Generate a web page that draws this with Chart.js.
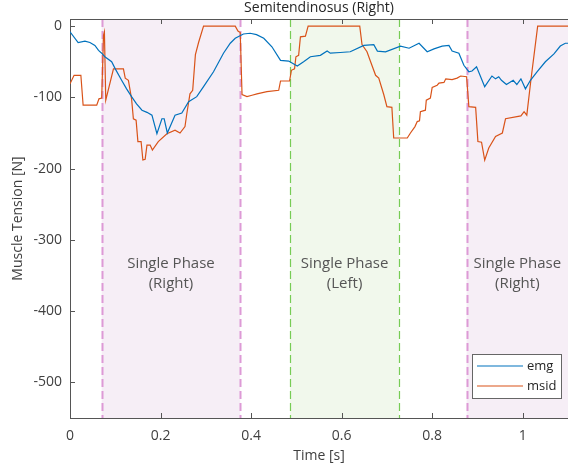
<!DOCTYPE html>
<html>
<head>
<meta charset="utf-8">
<title>Semitendinosus (Right)</title>
<script src="https://cdn.jsdelivr.net/npm/chart.js@4.4.0/dist/chart.umd.min.js"></script>
<style>
    body { margin: 0; background: #fff; }
</style>
</head>
<body>
<canvas id="tensionChart" width="568" height="470"></canvas>
<script>
// emg series (time in s, tension in N)
const emgTime = [0, 0.018, 0.033, 0.044, 0.055, 0.063, 0.07, 0.077, 0.092, 0.1, 0.114, 0.125, 0.136, 0.147,
    0.159, 0.17, 0.181, 0.192, 0.203, 0.208, 0.215, 0.232, 0.247, 0.262, 0.28, 0.295, 0.317, 0.339, 0.354,
    0.365, 0.383, 0.398, 0.412, 0.428, 0.446, 0.465, 0.483, 0.502, 0.516, 0.531, 0.553, 0.568, 0.575, 0.597,
    0.619, 0.649, 0.671, 0.679, 0.697, 0.73, 0.749, 0.771, 0.789, 0.804, 0.822, 0.837, 0.844, 0.859, 0.87,
    0.881, 0.888, 0.898, 0.916, 0.932, 0.94, 0.947, 0.953, 0.964, 0.979, 0.987, 0.996, 1.006, 1.017, 1.032,
    1.05, 1.069, 1.083, 1.094, 1.1];
const emgValues = [-8, -23, -21, -23, -27, -34, -38, -43, -50, -60, -76, -88, -99, -109,
    -118, -121, -125, -151, -130, -130, -150, -125, -122, -106, -99, -85, -64, -38, -24,
    -17, -11, -10, -12, -17, -29, -48, -49, -56, -50, -43, -41, -35, -38, -37,
    -36, -27, -26, -35, -36, -28, -31, -24, -36, -32, -28, -27, -35, -38, -55,
    -64, -63, -57, -85, -70, -74, -71, -76, -82, -76, -82, -74, -88, -76, -64,
    -50, -39, -28, -24, -24];

// msid series
const msidTime = [0, 0.009, 0.024, 0.029, 0.059, 0.064, 0.07, 0.074, 0.076, 0.079, 0.096, 0.118, 0.122, 0.129,
    0.136, 0.14, 0.146, 0.15, 0.157, 0.161, 0.166, 0.17, 0.177, 0.182, 0.195, 0.214, 0.232, 0.243, 0.254,
    0.258, 0.265, 0.271, 0.277, 0.284, 0.295, 0.365, 0.371, 0.376, 0.38, 0.391, 0.402, 0.413, 0.435, 0.461,
    0.465, 0.485, 0.489, 0.496, 0.499, 0.505, 0.509, 0.52, 0.526, 0.64, 0.645, 0.656, 0.664, 0.675, 0.682,
    0.693, 0.7, 0.711, 0.715, 0.745, 0.752, 0.762, 0.767, 0.772, 0.774, 0.785, 0.787, 0.796, 0.8, 0.811,
    0.815, 0.826, 0.83, 0.844, 0.855, 0.863, 0.876, 0.881, 0.896, 0.901, 0.909, 0.916, 0.925, 0.94, 0.955,
    0.962, 0.996, 1.003, 1.009, 1.018, 1.033, 1.1];
const msidValues = [-81, -69, -69, -111, -111, -102, -101, -13, -8, -104, -60, -60, -73, -76,
    -102, -130, -132, -162, -162, -188, -187, -167, -167, -174, -162, -151, -146, -150, -141,
    -123, -95, -90, -40, -23, 0, 0, -7, -9, -96, -99, -97, -95, -92, -90,
    -77, -77, -62, -60, -43, -41, -15, -14, 0, 0, -26, -36, -50, -69, -73,
    -96, -113, -114, -157, -157, -150, -141, -134, -133, -120, -118, -104, -101, -86, -83,
    -80, -79, -74, -75, -73, -70, -71, -113, -114, -162, -163, -188, -171, -155, -150,
    -130, -126, -120, -125, -76, 0, 0];

// single support phases
const phaseStart = [0.07, 0.486, 0.876];
const phaseEnd = [0.376, 0.727, 1.1];
const phaseSide = ["(Right)", "(Left)", "(Right)"];

const xTicks = [0, 0.2, 0.4, 0.6, 0.8, 1];
const yTicks = [-500, -400, -300, -200, -100, 0];

const FONT = "'Open Sans', 'DejaVu Sans', sans-serif";
const TEXT_COLOR = "#404040";
const AXIS_COLOR = "#555";
const phaseColors = {
    "(Right)": { fill: "#f6eef6", line: "#dd9ad6" },
    "(Left)": { fill: "#f1f8ec", line: "#77cc55" },
};

function toPoints(times, values) {
    return times.map((t, i) => ({ x: t, y: values[i] }));
}

// draws shaded phases, dashed borders, phase labels, ticks, legend and title
const phasePlugin = {
    id: "phases",
    beforeDatasetsDraw(chart) {
        const { ctx, chartArea, scales } = chart;
        const x = scales.x, y = scales.y;
        ctx.save();
        ctx.beginPath();
        ctx.rect(chartArea.left, chartArea.top, chartArea.width, chartArea.height);
        ctx.clip();
        phaseStart.forEach(function (start, i) {
            const left = x.getPixelForValue(start);
            const right = x.getPixelForValue(phaseEnd[i]);
            const colors = phaseColors[phaseSide[i]];
            ctx.fillStyle = colors.fill;
            ctx.fillRect(left, chartArea.top, right - left, chartArea.height);

            ctx.strokeStyle = colors.line;
            ctx.lineWidth = phaseSide[i] === "(Left)" ? 1.2 : 2;
            ctx.setLineDash([8, 4]);
            [start, phaseEnd[i]].forEach(function (t) {
                if (t >= x.max) return;
                const px = Math.round(x.getPixelForValue(t)) + 0.5;
                ctx.beginPath();
                ctx.moveTo(px, chartArea.top);
                ctx.lineTo(px, chartArea.bottom);
                ctx.stroke();
            });
            ctx.setLineDash([]);

            const cx = (left + right) / 2;
            ctx.fillStyle = "#555";
            ctx.font = "15px " + FONT;
            ctx.textAlign = "center";
            ctx.textBaseline = "middle";
            ctx.fillText("Single Phase", cx, y.getPixelForValue(-333));
            ctx.fillText(phaseSide[i], cx, y.getPixelForValue(-362));
        });
        ctx.restore();
    },
    afterDraw(chart) {
        const { ctx, chartArea, scales } = chart;
        const x = scales.x, y = scales.y;
        ctx.save();
        ctx.strokeStyle = AXIS_COLOR;
        ctx.lineWidth = 1;

        // box top line
        ctx.beginPath();
        ctx.moveTo(chartArea.left, chartArea.top + 0.5);
        ctx.lineTo(chartArea.right, chartArea.top + 0.5);
        ctx.stroke();

        // inward tick marks
        xTicks.forEach(function (t) {
            const px = Math.round(x.getPixelForValue(t)) + 0.5;
            ctx.beginPath();
            ctx.moveTo(px, chartArea.bottom);
            ctx.lineTo(px, chartArea.bottom - 5);
            ctx.moveTo(px, chartArea.top);
            ctx.lineTo(px, chartArea.top + 5);
            ctx.stroke();
        });
        yTicks.forEach(function (v) {
            const py = Math.round(y.getPixelForValue(v)) + 0.5;
            ctx.beginPath();
            ctx.moveTo(chartArea.left, py);
            ctx.lineTo(chartArea.left + 5, py);
            ctx.stroke();
        });

        // legend box
        const boxLeft = 472, boxTop = 354, boxW = 89, boxH = 44;
        ctx.fillStyle = "#fff";
        ctx.fillRect(boxLeft, boxTop, boxW, boxH);
        ctx.strokeStyle = "#666";
        ctx.strokeRect(boxLeft + 0.5, boxTop + 0.5, boxW, boxH);
        ctx.font = "13px " + FONT;
        ctx.textAlign = "left";
        ctx.textBaseline = "middle";
        chart.data.datasets.forEach(function (ds, i) {
            const ly = boxTop + 12 + i * 20;
            ctx.strokeStyle = ds.borderColor;
            ctx.lineWidth = 1.2;
            ctx.beginPath();
            ctx.moveTo(boxLeft + 5, ly);
            ctx.lineTo(boxLeft + 51, ly);
            ctx.stroke();
            ctx.fillStyle = "#262626";
            ctx.fillText(ds.label, boxLeft + 55, ly);
        });

        // title (clipped at the top like the original)
        ctx.fillStyle = "#262626";
        ctx.font = "14px " + FONT;
        ctx.textAlign = "center";
        ctx.textBaseline = "alphabetic";
        ctx.fillText("Semitendinosus (Right)", (chartArea.left + chartArea.right) / 2, 12);
        ctx.restore();
    },
};

const ctx = document.getElementById("tensionChart").getContext("2d");

const tensionChart = new Chart(ctx, {
    type: "scatter",
    data: {
        datasets: [
            {
                label: "emg",
                data: toPoints(emgTime, emgValues),
                borderColor: "#0072BD",
                showLine: true,
                borderWidth: 1.2,
                pointRadius: 0,
                tension: 0,
            },
            {
                label: "msid",
                data: toPoints(msidTime, msidValues),
                borderColor: "#D95319",
                showLine: true,
                borderWidth: 1.2,
                pointRadius: 0,
                tension: 0,
            },
        ],
    },
    options: {
        responsive: false,
        animation: false,
        devicePixelRatio: 1,
        layout: { padding: { top: 19, right: 0, left: 0, bottom: 0 } },
        plugins: {
            legend: { display: false },
            tooltip: { enabled: false },
        },
        scales: {
            x: {
                type: "linear",
                min: 0,
                max: 1.1,
                afterBuildTicks: function (scale) {
                    scale.ticks = xTicks.map((v) => ({ value: v }));
                },
                afterFit: function (scale) {
                    scale.height = 52;
                },
                grid: { display: false, drawTicks: false },
                border: { display: true, color: AXIS_COLOR, width: 1 },
                ticks: {
                    padding: 10,
                    color: TEXT_COLOR,
                    font: { family: FONT, size: 14 },
                    maxRotation: 0,
                    callback: (v) => String(v),
                },
                title: {
                    display: true,
                    text: "Time [s]",
                    color: TEXT_COLOR,
                    font: { family: FONT, size: 14 },
                    padding: { top: 0, bottom: 6 },
                },
            },
            y: {
                min: -550,
                max: 10,
                afterBuildTicks: function (scale) {
                    scale.ticks = yTicks.map((v) => ({ value: v }));
                },
                afterFit: function (scale) {
                    scale.width = 70;
                },
                grid: { display: false, drawTicks: false },
                border: { display: true, color: AXIS_COLOR, width: 1 },
                ticks: {
                    padding: 8,
                    color: TEXT_COLOR,
                    font: { family: FONT, size: 14 },
                    callback: (v) => String(v),
                },
                title: {
                    display: true,
                    text: "Muscle Tension [N]",
                    color: TEXT_COLOR,
                    font: { family: FONT, size: 14 },
                    padding: { top: 10, bottom: 0 },
                },
            },
        },
    },
    plugins: [phasePlugin],
});
</script>
</body>
</html>
